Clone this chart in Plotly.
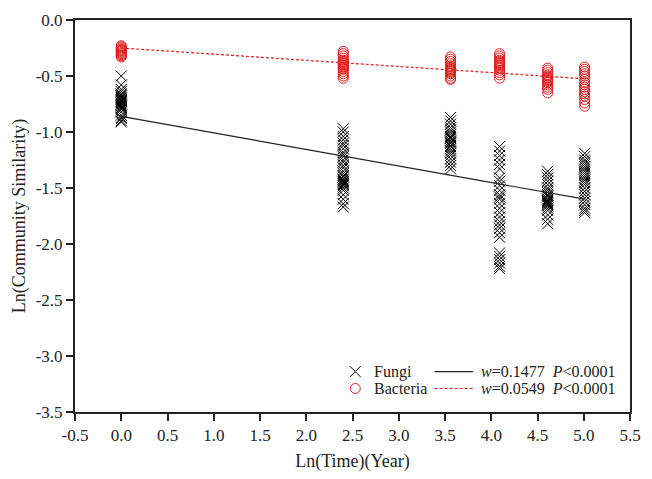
import plotly.graph_objects as go

# ---- data ----
time_points = [0.0, 2.40, 3.56, 4.09, 4.61, 5.01]

fungi_t0 = [-0.50, -0.58, -0.62, -0.64, -0.66, -0.67, -0.68, -0.69, -0.70, -0.71, -0.72, -0.72,
            -0.73, -0.74, -0.75, -0.76, -0.77, -0.78, -0.79, -0.80, -0.82, -0.85, -0.87, -0.88,
            -0.90, -0.91]
fungi_t1 = [-0.97, -1.00, -1.04, -1.07, -1.10, -1.12, -1.15, -1.18, -1.20, -1.22, -1.25, -1.27,
            -1.30, -1.32, -1.35, -1.37, -1.39, -1.40, -1.42, -1.43, -1.44, -1.45, -1.46, -1.47,
            -1.48, -1.50, -1.52, -1.56, -1.60, -1.64, -1.67]
fungi_t2 = [-0.87, -0.90, -0.93, -0.96, -0.98, -1.00, -1.02, -1.04, -1.05, -1.06, -1.08, -1.09,
            -1.10, -1.12, -1.13, -1.15, -1.17, -1.19, -1.21, -1.24, -1.27, -1.30, -1.33]
fungi_t3 = [-1.13, -1.17, -1.21, -1.25, -1.29, -1.33, -1.41, -1.44, -1.48, -1.52, -1.56, -1.58,
            -1.60, -1.64, -1.68, -1.72, -1.76, -1.80, -1.83, -1.86, -1.90, -1.94, -2.08, -2.11,
            -2.14, -2.17, -2.20, -2.22]
fungi_t4 = [-1.35, -1.38, -1.41, -1.44, -1.47, -1.50, -1.52, -1.54, -1.56, -1.57, -1.58, -1.60,
            -1.61, -1.62, -1.63, -1.64, -1.65, -1.66, -1.68, -1.70, -1.74, -1.78, -1.82]
fungi_t5 = [-1.19, -1.22, -1.25, -1.27, -1.29, -1.31, -1.33, -1.35, -1.37, -1.39, -1.41, -1.43,
            -1.45, -1.47, -1.50, -1.53, -1.56, -1.59, -1.62, -1.65, -1.68, -1.70, -1.72]

bact_t0 = [-0.23, -0.24, -0.25, -0.26, -0.27, -0.27, -0.28, -0.29, -0.30, -0.31, -0.32, -0.33]
bact_t1 = [-0.28, -0.30, -0.32, -0.34, -0.36, -0.37, -0.38, -0.39, -0.40, -0.41, -0.42, -0.43,
           -0.44, -0.46, -0.48, -0.50, -0.52]
bact_t2 = [-0.33, -0.35, -0.37, -0.39, -0.41, -0.42, -0.43, -0.44, -0.45, -0.46, -0.47, -0.48,
           -0.50, -0.52, -0.53]
bact_t3 = [-0.30, -0.32, -0.34, -0.36, -0.37, -0.38, -0.39, -0.40, -0.41, -0.42, -0.43, -0.45,
           -0.47, -0.49, -0.52]
bact_t4 = [-0.43, -0.45, -0.47, -0.49, -0.50, -0.51, -0.52, -0.53, -0.54, -0.55, -0.56, -0.58,
           -0.60, -0.62, -0.65]
bact_t5 = [-0.42, -0.44, -0.46, -0.48, -0.50, -0.53, -0.56, -0.58, -0.60, -0.62, -0.64, -0.66,
           -0.68, -0.71, -0.74, -0.77]

fungi_groups = [fungi_t0, fungi_t1, fungi_t2, fungi_t3, fungi_t4, fungi_t5]
bact_groups = [bact_t0, bact_t1, bact_t2, bact_t3, bact_t4, bact_t5]

fungi_intercept, fungi_slope = -0.86, -0.1477
bact_intercept, bact_slope = -0.25, -0.0549
series_names = ["Fungi", "Bacteria"]
fit_labels = ["<i>w</i>=0.1477  <i>P</i><0.0001", "<i>w</i>=0.0549  <i>P</i><0.0001"]

x_ticks = [-0.5, 0.0, 0.5, 1.0, 1.5, 2.0, 2.5, 3.0, 3.5, 4.0, 4.5, 5.0, 5.5]
y_ticks = [0.0, -0.5, -1.0, -1.5, -2.0, -2.5, -3.0, -3.5]

# ---- build ----
def flatten(groups):
    xs, ys = [], []
    for t, g in zip(time_points, groups):
        xs += [t] * len(g)
        ys += g
    return xs, ys

fx, fy = flatten(fungi_groups)
bx, by = flatten(bact_groups)

red = "rgb(222,30,30)"
ink = "#222222"
FONT = "Liberation Serif, Times New Roman, serif"

fungi_marker = dict(symbol="x-thin-open", size=11, color="black", line=dict(width=1, color="black"))
bact_marker = dict(symbol="circle-open", size=10, color=red, line=dict(width=1, color=red))

fig = go.Figure()
fig.add_trace(go.Scatter(x=fx, y=fy, mode="markers", name="Fungi", marker=fungi_marker,
                         showlegend=False))
fig.add_trace(go.Scatter(x=bx, y=by, mode="markers", name="Bacteria", marker=bact_marker,
                         showlegend=False))

xl = [time_points[0], time_points[-1]]
fig.add_trace(go.Scatter(x=xl, y=[fungi_intercept + fungi_slope * v for v in xl],
                         mode="lines", line=dict(color=ink, width=1.2), showlegend=False))
fig.add_trace(go.Scatter(x=xl, y=[bact_intercept + bact_slope * v for v in xl],
                         mode="lines", line=dict(color=red, width=1.2, dash="3px,2px"),
                         showlegend=False))

# ---- manual legend (paper-fraction positions) ----
row_y = [0.103, 0.060]
marker_x, text_x = 0.505, 0.535
line_x0, line_x1, fit_text_x = 0.648, 0.717, 0.728
fig.add_trace(go.Scatter(x=[marker_x], y=[row_y[0]], xaxis="x2", yaxis="y2", mode="markers",
                         marker=fungi_marker, showlegend=False, hoverinfo="skip"))
fig.add_trace(go.Scatter(x=[marker_x], y=[row_y[1]], xaxis="x2", yaxis="y2", mode="markers",
                         marker=bact_marker, showlegend=False, hoverinfo="skip"))
line_styles = [dict(color=ink, width=1.2), dict(color=red, width=1.2, dash="3px,2px")]
for i in range(2):
    fig.add_annotation(x=text_x, y=row_y[i], xref="paper", yref="paper", text=series_names[i],
                       showarrow=False, xanchor="left", yanchor="middle",
                       font=dict(family=FONT, size=16, color=ink))
    fig.add_annotation(x=fit_text_x, y=row_y[i], xref="paper", yref="paper", text=fit_labels[i],
                       showarrow=False, xanchor="left", yanchor="middle",
                       font=dict(family=FONT, size=16, color=ink))
    fig.add_shape(type="line", xref="paper", yref="paper", x0=line_x0, x1=line_x1,
                  y0=row_y[i], y1=row_y[i], line=line_styles[i])

axis_common = dict(showline=True, linecolor=ink, linewidth=2, mirror=True,
                   ticks="outside", ticklen=7, tickwidth=2, tickcolor=ink,
                   showgrid=False, zeroline=False,
                   tickfont=dict(family=FONT, size=17, color=ink))

fig.update_layout(
    width=652, height=479,
    margin=dict(l=75, r=11, t=17, b=65),
    plot_bgcolor="white", paper_bgcolor="white",
    font=dict(family=FONT, color=ink),
    showlegend=False,
    xaxis=dict(range=[-0.5, 5.5], tickvals=x_ticks, ticktext=[f"{v:.1f}" for v in x_ticks],
               title=dict(text="Ln(Time)(Year)", font=dict(family=FONT, size=18), standoff=10),
               **axis_common),
    yaxis=dict(range=[-3.5, 0.0], tickvals=y_ticks, ticktext=[f"{v:.1f}" for v in y_ticks],
               title=dict(text="Ln(Community Similarity)", font=dict(family=FONT, size=18), standoff=5),
               **axis_common),
    xaxis2=dict(overlaying="x", range=[0, 1], visible=False, anchor="y2"),
    yaxis2=dict(overlaying="y", range=[0, 1], visible=False, anchor="x2"),
)

fig.write_html("out.html", config={"displayModeBar": False},
               post_script="document.body.style.margin='0';")
